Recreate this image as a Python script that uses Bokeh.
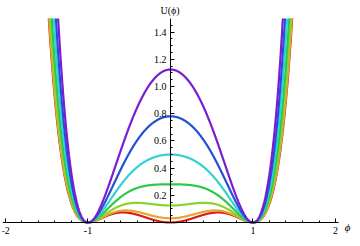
import numpy as np
from bokeh.plotting import figure
from bokeh.models import FixedTicker, Label, Range1d
from bokeh.embed import file_html
from bokeh.resources import INLINE

# Curve parameters: height U(0) of each curve
u0_values = [0.0, 0.031, 0.125, 0.281, 0.5, 0.781, 1.125]
curve_colors = ["#d81c1c", "#e6a530", "#8ad42c", "#2ec94a", "#30d2d6", "#2250d6", "#7a1cd6"]

x_ticks = [-2, -1, 1, 2]
x_tick_labels = ["-2", "-1", "1", "2"]
y_ticks = [0.2, 0.4, 0.6, 0.8, 1.0, 1.2, 1.4]
y_tick_labels = ["0.2", "0.4", "0.6", "0.8", "1.0", "1.2", "1.4"]

FONT = "Liberation Serif"

X0, X1 = -2.036, 2.206
Y0, Y1 = -0.1176, 1.5

p = figure(width=352, height=238, output_backend="svg", toolbar_location=None,
           x_range=Range1d(X0, X1), y_range=Range1d(Y0, Y1),
           min_border_left=2, min_border_right=0, min_border_top=18, min_border_bottom=0,
           title="U(ϕ)")
p.outline_line_color = None
p.xgrid.visible = False
p.ygrid.visible = False
p.background_fill_color = "white"

p.title.align = "left"
p.title.offset = 158
p.title.standoff = 5
p.title.text_font = FONT
p.title.text_font_size = "10px"
p.title.text_font_style = "normal"
p.title.text_color = "black"

phi = np.linspace(-2.0, 2.0, 1601)
for u0, col in zip(u0_values, curve_colors):
    U = (0.5 * phi**2 + u0) * (phi**2 - 1.0) ** 2
    p.line(phi, U, line_color=col, line_width=2.2)

x_minor = [round(v, 2) for v in np.arange(-2.0, 2.01, 0.2) if abs(v - round(v)) > 1e-6]
y_minor = [round(v, 2) for v in np.arange(0.05, 1.5, 0.05) if abs(v / 0.2 - round(v / 0.2)) > 1e-6]

for ax in (p.xaxis[0], p.yaxis[0]):
    ax.fixed_location = 0
    ax.axis_line_color = "black"
    ax.axis_line_width = 1
    ax.major_tick_in = 4
    ax.major_tick_out = 0
    ax.minor_tick_in = 2
    ax.minor_tick_out = 0
    ax.major_tick_line_color = "black"
    ax.minor_tick_line_color = "black"
    ax.major_label_text_font = FONT
    ax.major_label_text_font_size = "10px"
    ax.major_label_text_color = "black"

p.xaxis[0].bounds = (X0, 2.04)
p.xaxis[0].ticker = FixedTicker(ticks=x_ticks, minor_ticks=x_minor)
p.xaxis[0].major_label_overrides = {t: s for t, s in zip(x_ticks, x_tick_labels)}
p.xaxis[0].major_label_standoff = 4
p.yaxis[0].bounds = (0, 1.5)
p.yaxis[0].ticker = FixedTicker(ticks=y_ticks, minor_ticks=y_minor)
p.yaxis[0].major_label_overrides = {t: s for t, s in zip(y_ticks, y_tick_labels)}
p.yaxis[0].major_label_standoff = 4

p.add_layout(Label(x=2.04, y=0, text="ϕ", text_align="left", text_baseline="middle",
                   x_offset=6, y_offset=-4, text_font=FONT, text_font_size="11px",
                   text_font_style="italic", text_color="black"))

open("out.html", "w").write(file_html(p, INLINE))
